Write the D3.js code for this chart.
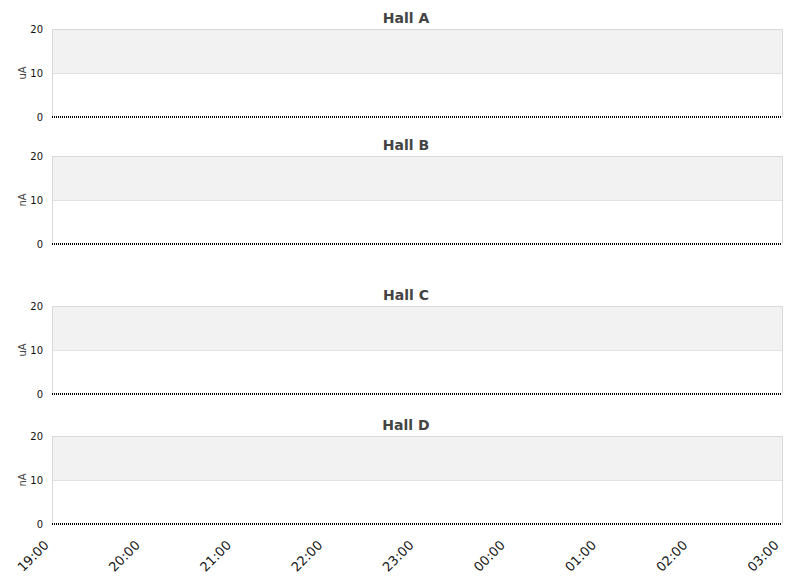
<!DOCTYPE html>
<html>
<head>
<meta charset="utf-8">
<script src="https://cdn.jsdelivr.net/npm/d3@7"></script>
<style>
  body { margin: 0; background: #fff; }
  svg { font-family: "DejaVu Sans", sans-serif; }
</style>
</head>
<body>
<svg id="chart" width="811" height="578"></svg>
<script>
// chart data
const halls = ["Hall A", "Hall B", "Hall C", "Hall D"];
const units = ["uA", "nA", "uA", "nA"];
const yTicks = [0, 10, 20];
const tickLabels = ["19:00", "20:00", "21:00", "22:00", "23:00", "00:00", "01:00", "02:00", "03:00"];
// readings every 15 minutes from 19:00 to 03:00, all at zero
const readingsA = [0,0,0,0,0,0,0,0,0,0,0,0,0,0,0,0,0,0,0,0,0,0,0,0,0,0,0,0,0,0,0,0,0];
const readingsB = [0,0,0,0,0,0,0,0,0,0,0,0,0,0,0,0,0,0,0,0,0,0,0,0,0,0,0,0,0,0,0,0,0];
const readingsC = [0,0,0,0,0,0,0,0,0,0,0,0,0,0,0,0,0,0,0,0,0,0,0,0,0,0,0,0,0,0,0,0,0];
const readingsD = [0,0,0,0,0,0,0,0,0,0,0,0,0,0,0,0,0,0,0,0,0,0,0,0,0,0,0,0,0,0,0,0,0];
const readings = [readingsA, readingsB, readingsC, readingsD];

const svg = d3.select("#chart");
const left = 52, right = 782, panelH = 88;
const tops = [29, 156, 306, 436];

const start = new Date(2024, 0, 1, 19, 0);
const end = new Date(2024, 0, 2, 3, 0);
const x = d3.scaleTime([start, end], [left, right]);

halls.forEach((name, i) => {
  const top = tops[i];
  const y = d3.scaleLinear([0, 20], [top + panelH, top]);
  const g = svg.append("g");

  // alternating bands
  g.append("rect")
    .attr("x", left).attr("width", right - left)
    .attr("y", y(20)).attr("height", y(10) - y(20))
    .attr("fill", "#f2f2f2");

  // grid line at 10
  g.append("line")
    .attr("x1", left).attr("x2", right)
    .attr("y1", y(10) + 0.5).attr("y2", y(10) + 0.5)
    .attr("stroke", "#e2e2e2");

  // frame (top, left, right)
  g.append("path")
    .attr("d", `M${left + 0.5},${y(0)}V${y(20) + 0.5}H${right + 0.5}V${y(0)}`)
    .attr("fill", "none")
    .attr("stroke", "#d9d9d9");

  // y axis
  const ya = g.append("g")
    .attr("transform", `translate(${left},0)`)
    .call(d3.axisLeft(y).tickValues(yTicks).tickSize(0).tickPadding(9));
  ya.select(".domain").remove();
  ya.selectAll("text").attr("font-size", 10).attr("fill", "#111")
    .attr("font-family", "DejaVu Sans, sans-serif");

  g.append("text")
    .attr("transform", `translate(26,${top + panelH / 2}) rotate(-90)`)
    .attr("text-anchor", "middle")
    .attr("font-size", 10)
    .attr("fill", "#444")
    .text(units[i]);

  g.append("text")
    .attr("x", (left + right) / 2 - 11)
    .attr("y", top - 6)
    .attr("text-anchor", "middle")
    .attr("font-size", 14)
    .attr("font-weight", "bold")
    .attr("fill", "#444")
    .text(name);

  // series
  const pts = readings[i].map((v, k) => [d3.timeMinute.offset(start, k * 15), v]);
  g.append("path")
    .datum(pts)
    .attr("fill", "none")
    .attr("stroke", "#000")
    .attr("stroke-width", 2)
    .attr("stroke-dasharray", "1,1")
    .attr("d", d3.line().x(d => x(d[0])).y(d => y(d[1])));
});

// bottom time axis
const xa = svg.append("g")
  .attr("transform", `translate(0,${tops[3] + panelH})`)
  .call(d3.axisBottom(x).ticks(d3.timeHour.every(1)).tickSize(0)
    .tickFormat((d, k) => tickLabels[k]));
xa.select(".domain").remove();
xa.selectAll("text")
  .attr("font-size", 13)
  .attr("fill", "#111")
  .attr("font-family", "DejaVu Sans, sans-serif")
  .attr("text-anchor", "end")
  .attr("dy", 0)
  .attr("y", 0)
  .attr("transform", "translate(-3,22) rotate(-45)");
</script>
</body>
</html>
